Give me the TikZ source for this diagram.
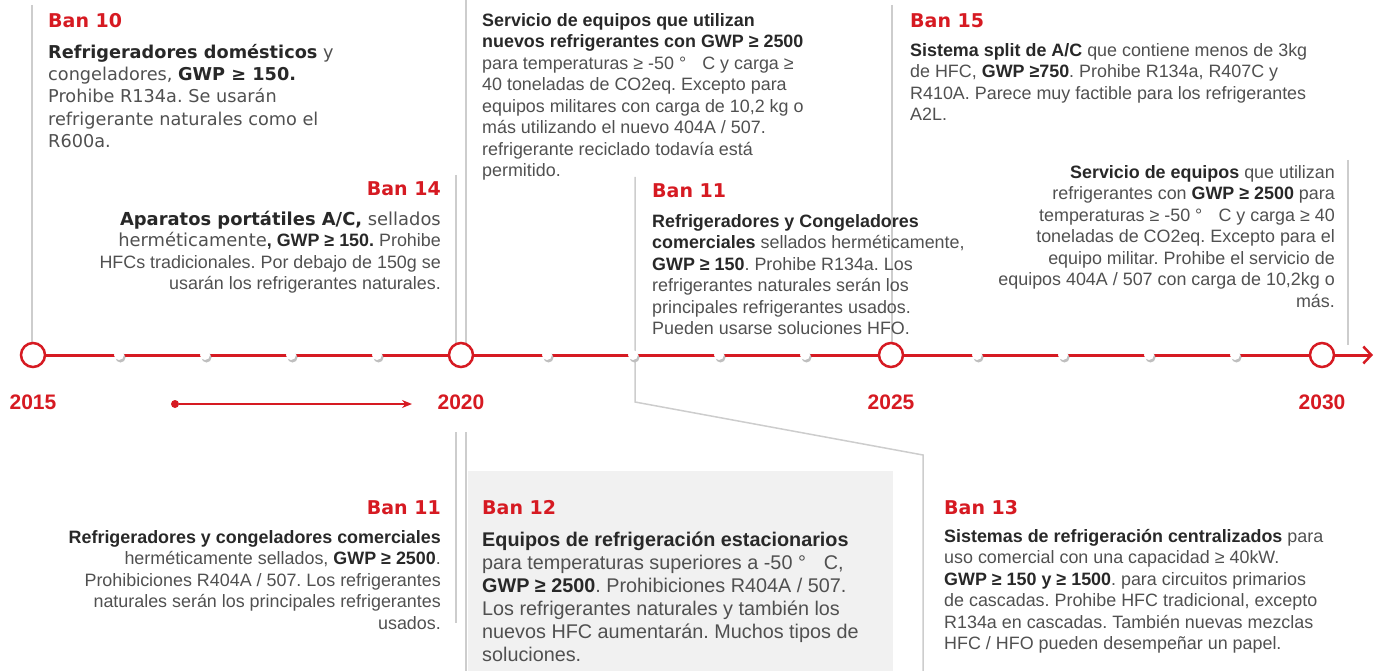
\documentclass[tikz,border=0pt]{standalone}
\usepackage{fontspec}
\setmainfont{Liberation Sans}
\newfontfamily\verd{DejaVu Sans}
\usepackage{tikz}
\usetikzlibrary{arrows.meta}
\definecolor{banred}{RGB}{214,26,34}
\definecolor{txtgray}{RGB}{80,80,80}
\definecolor{txtdark}{RGB}{40,40,40}
\definecolor{guidegray}{RGB}{205,205,205}
\definecolor{boxgray}{RGB}{241,241,241}
\newcommand{\bd}[1]{{\bfseries\color{txtdark}#1}}
\newcommand{\firstln}{\rule{0pt}{16pt}}
\frenchspacing

\begin{document}
\begin{tikzpicture}[x=1pt, y=-1pt,
    ban/.style={font=\verd\bfseries\fontsize{19}{22}\selectfont, text=banred, inner sep=0pt},
    body/.style={font=\frenchspacing\fontsize{17.9}{21.5}\selectfont, text=txtgray, inner sep=0pt, align=left, anchor=north west},
    bodyr/.style={body, align=right, anchor=north east},
    yrlab/.style={font=\bfseries\fontsize{21}{24}\selectfont, text=banred, inner sep=0pt},
    yrdot/.style={circle, draw=banred, line width=2.5pt, fill=white, minimum size=24pt, inner sep=0pt},
    guide/.style={draw=guidegray, line width=1.5pt},
    tline/.style={draw=banred, line width=3pt, -{Straight Barb[length=8pt, width=17pt, line width=2.5pt]}}
  ]
    \useasboundingbox (0,0) rectangle (1381,671);

    % Grey panel behind Ban 12
    \fill[boxgray] (468,471) rectangle (893,671);

    % Year circles on the time line
    \coordinate (c15) at (33,355);
    \coordinate (c20) at (461,355);
    \coordinate (c25) at (891,355);
    \coordinate (c30) at (1322,355);
    \coordinate (tend) at (1373,355);

    % Grey guide lines from the texts to the time line
    \draw[guide] (32,5) -- (32,343);
    \draw[guide] (456,175) -- (456,343);
    \draw[guide] (466,0) -- (466,343);
    \draw[guide] (892,5) -- (892,343);
    \draw[guide] (635,177) -- (635,402) -- (923,455) -- (923,671);
    \draw[guide] (1348,160) -- (1348,345);
    \draw[guide] (456,432) -- (456,623);
    \draw[guide] (466,432) -- (466,671);

    % Time line with its small gaps
    \draw[tline] (c15) -- (tend);
    \foreach \x in {119,205,291,377,547,633,719,805,977,1063,1149,1235} {
        \fill[black!25] (\x+1.5,357.5) circle (5pt);
        \fill[white] (\x,355) circle (5pt);
    }
    \node[yrdot] (y15) at (c15) {};
    \node[yrdot] (y20) at (c20) {};
    \node[yrdot] (y25) at (c25) {};
    \node[yrdot] (y30) at (c30) {};

    % Years
    \node[yrlab] (l15) at (33,402) {2015};
    \node[yrlab] (l20) at (461,402) {2020};
    \node[yrlab] (l25) at (891,402) {2025};
    \node[yrlab] (l30) at (1322,402) {2030};

    % Small arrow between 2015 and 2020
    \node[circle, fill=banred, minimum size=8pt, inner sep=0pt] (a0) at (175,404) {};
    \coordinate (a1) at (412,404);
    \draw[banred, line width=2pt, -{Stealth[length=10pt, width=8pt]}] (a0) -- (a1);

    % Ban 10
    \node[ban, anchor=base west] (t10) at (48,28) {Ban 10};
    \node[body, font=\verd\fontsize{17.7}{22.3}\selectfont] (b10) at (48,42) {\firstln\bd{Refrigeradores domésticos} y\\
        congeladores, \bd{GWP ≥ 150.}\\
        Prohibe R134a. Se usarán\\
        refrigerante naturales como el\\
        R600a.};

    % Service text at the top
    \node[body] (s20) at (482,10) {\firstln\bd{Servicio de equipos que utilizan}\\
        \bd{nuevos refrigerantes con GWP ≥ 2500}\\
        para temperaturas ≥ -50 °\hspace{0.9em}C y carga ≥\\
        40 toneladas de CO2eq. Excepto para\\
        equipos militares con carga de 10,2 kg o\\
        más utilizando el nuevo 404A / 507.\\
        refrigerante reciclado todavía está\\
        permitido.};

    % Ban 15
    \node[ban, anchor=base west] (t15) at (910,28) {Ban 15};
    \node[body] (b15) at (910,40) {\firstln\bd{Sistema split de A/C} que contiene menos de 3kg\\
        de HFC, \bd{GWP ≥750}. Prohibe R134a, R407C y\\
        R410A. Parece muy factible para los refrigerantes\\
        A2L.};

    % Ban 14
    \node[ban, anchor=base east] (t14) at (441,196) {Ban 14};
    \node[bodyr] (b14) at (441,209) {\firstln{\verd\bd{Aparatos portátiles A/C,} sellados}\\
        {\verd herméticamente}\bd{, GWP ≥ 150.} Prohibe\\
        HFCs tradicionales. Por debajo de 150g se\\
        usarán los refrigerantes naturales.};

    % Ban 11 (top)
    \node[ban, anchor=base west] (t11a) at (652,198) {Ban 11};
    \node[body] (b11a) at (652,211) {\firstln\bd{Refrigeradores y Congeladores}\\
        \bd{comerciales} sellados herméticamente,\\
        \bd{GWP ≥ 150}. Prohibe R134a. Los\\
        refrigerantes naturales serán los\\
        principales refrigerantes usados.\\
        Pueden usarse soluciones HFO.};

    % Service text on the right
    \node[bodyr] (s25) at (1335,162) {\firstln\bd{Servicio de equipos} que utilizan\\
        refrigerantes con \bd{GWP ≥ 2500} para\\
        temperaturas ≥ -50 °\hspace{0.9em}C y carga ≥ 40\\
        toneladas de CO2eq. Excepto para el\\
        equipo militar. Prohibe el servicio de\\
        equipos 404A / 507 con carga de 10,2kg o\\
        más.};

    % Ban 11 (bottom)
    \node[ban, anchor=base east] (t11b) at (441,514) {Ban 11};
    \node[bodyr] (b11b) at (441,527) {\firstln\bd{Refrigeradores y congeladores comerciales}\\
        herméticamente sellados, \bd{GWP ≥ 2500}.\\
        Prohibiciones R404A / 507. Los refrigerantes\\
        naturales serán los principales refrigerantes\\
        usados.};

    % Ban 12
    \node[ban, anchor=base west] (t12) at (482,514) {Ban 12};
    \node[body, font=\fontsize{19.8}{23}\selectfont] (b12) at (482,530) {\firstln\bd{Equipos de refrigeración estacionarios}\\
        para temperaturas superiores a -50 °\hspace{0.9em}C,\\
        \bd{GWP ≥ 2500}. Prohibiciones R404A / 507.\\
        Los refrigerantes naturales y también los\\
        nuevos HFC aumentarán. Muchos tipos de\\
        soluciones.};

    % Ban 13
    \node[ban, anchor=base west] (t13) at (944,514) {Ban 13};
    \node[body] (b13) at (944,526) {\firstln\bd{Sistemas de refrigeración centralizados} para\\
        uso comercial con una capacidad ≥ 40kW.\\
        \bd{GWP ≥ 150 y ≥ 1500}. para circuitos primarios\\
        de cascadas. Prohibe HFC tradicional, excepto\\
        R134a en cascadas. También nuevas mezclas\\
        HFC / HFO pueden desempeñar un papel.};
\end{tikzpicture}
\end{document}
